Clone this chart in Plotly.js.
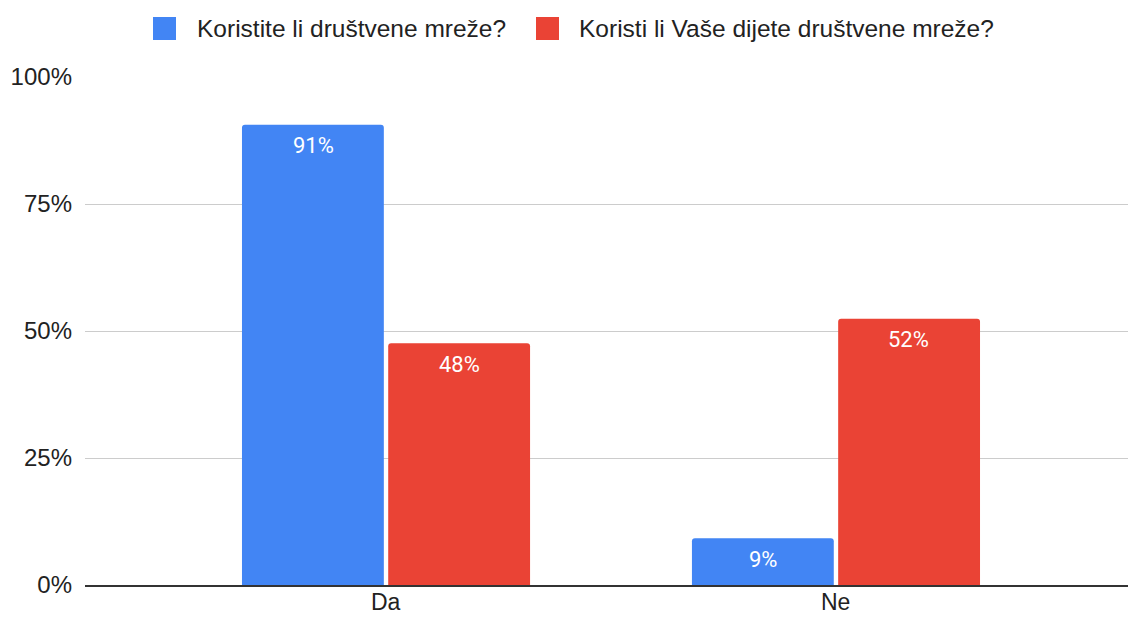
<!DOCTYPE html>
<html>
<head>
<meta charset="utf-8">
<script src="https://cdn.plot.ly/plotly-3.0.1.min.js"></script>
<style>html,body{margin:0;padding:0;background:#fff;}#chart{width:1128px;height:617px;}</style>
</head>
<body>
<div id="chart"></div>
<script>
const categories = ["Da", "Ne"];
const seriesNames = ["Koristite li društvene mreže?", "Koristi li Vaše dijete društvene mreže?"];
const parentValues = [90.6, 9.2];
const childValues = [47.6, 52.4];
const yTickValues = [0, 25, 50, 75, 100];
const yTickLabels = ["0%", "25%", "50%", "75%", "100%"];

const colors = ["#4285F4", "#EA4335"];
const allValues = [parentValues, childValues];

const W = 1128, H = 617;
const M = { l: 85, r: 0, t: 77, b: 32 };
const pw = W - M.l - M.r, ph = H - M.t - M.b;
const px2x = px => (px - M.l) / pw;
const py2y = py => (H - M.b - py) / ph;

const traces = allValues.map((vals, i) => ({
  type: "bar",
  name: seriesNames[i],
  x: categories,
  y: vals,
  marker: { color: colors[i], cornerradius: 3 },
  hoverinfo: "none",
  textposition: "none",
  showlegend: false
}));

const annotations = [];
allValues.forEach((vals, i) => {
  vals.forEach((v, j) => {
    annotations.push({
      x: categories[j], y: v, xref: "x", yref: "y",
      text: Math.round(v) + "%",
      showarrow: false,
      xshift: i === 0 ? -73 : 73,
      yshift: -21,
      yanchor: "middle",
      font: { family: "Roboto, sans-serif", size: 22, color: "#ffffff" }
    });
  });
});

// category labels under the axis, kept fully inside the picture
categories.forEach(c => {
  annotations.push({
    x: c, xref: "x", yref: "paper", y: py2y(H - 1),
    yanchor: "bottom", text: c, showarrow: false, borderpad: 0,
    font: { family: "'Liberation Sans', Arial, sans-serif", size: 23, color: "#222222" }
  });
});

// custom legend (large swatches like the reference)
const legendSwatchX = [153, 536];
const legendTextX = [195, 577];
const shapes = [];
seriesNames.forEach((name, i) => {
  shapes.push({
    type: "rect", xref: "paper", yref: "paper",
    x0: px2x(legendSwatchX[i]), x1: px2x(legendSwatchX[i] + 23),
    y0: py2y(40), y1: py2y(17),
    fillcolor: colors[i], line: { width: 0 }
  });
  annotations.push({
    xref: "paper", yref: "paper",
    x: px2x(legendTextX[i]), y: py2y(28.5),
    xanchor: "left", yanchor: "middle",
    text: name, showarrow: false,
    font: { family: "'Liberation Sans', Arial, sans-serif", size: 24.5, color: "#222222" }
  });
});

const layout = {
  width: W, height: H,
  margin: M,
  paper_bgcolor: "#ffffff", plot_bgcolor: "#ffffff",
  barmode: "group",
  bargap: 0.35,
  bargroupgap: 0.03,
  font: { family: "'Liberation Sans', Arial, sans-serif", size: 24, color: "#222222" },
  showlegend: false,
  xaxis: {
    type: "category",
    range: [-0.669, 1.649],
    showgrid: false,
    showline: true, linecolor: "#333333", linewidth: 2,
    ticks: "",
    showticklabels: false,
    zeroline: false
  },
  yaxis: {
    range: [0, 100],
    tickvals: yTickValues,
    ticktext: yTickLabels,
    showgrid: true, gridcolor: "#cccccc", gridwidth: 1,
    zeroline: false,
    showline: false,
    ticks: "",
    ticklabelstandoff: 12,
    tickfont: { size: 24, color: "#222222" }
  },
  shapes: shapes,
  annotations: annotations
};

Plotly.newPlot("chart", traces, layout, { displayModeBar: false, staticPlot: true });
</script>
</body>
</html>
